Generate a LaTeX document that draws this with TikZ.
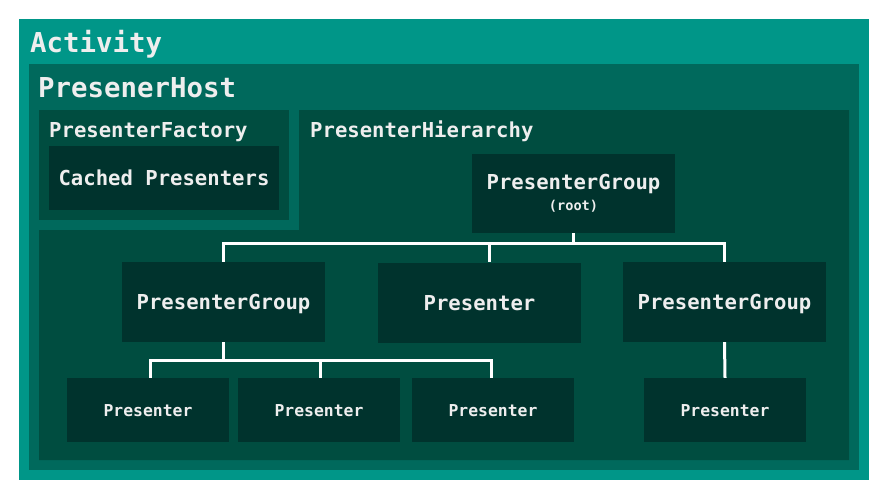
\documentclass[tikz,border=0pt]{standalone}
\usepackage{fontspec}
\setmonofont{DejaVu Sans Mono}
\definecolor{activitybg}{HTML}{009688}
\definecolor{hostbg}{HTML}{00695C}
\definecolor{hierbg}{HTML}{004D40}
\definecolor{boxbg}{HTML}{00332D}
\definecolor{labeltxt}{HTML}{EEEEEE}
\begin{document}
\begin{tikzpicture}[x=1pt,y=-1pt,
    title/.style={anchor=base west, inner sep=0pt, text=labeltxt,
      font=\ttfamily\bfseries\fontsize{27.4}{30}\selectfont},
    subtitle/.style={anchor=base west, inner sep=0pt, text=labeltxt,
      font=\ttfamily\bfseries\fontsize{20.6}{23}\selectfont},
    bigbox/.style={fill=boxbg, text=labeltxt, inner sep=0pt,
      minimum width=203pt, minimum height=80pt, align=center,
      text height=15pt, text depth=0pt,
      font=\ttfamily\bfseries\fontsize{20.6}{23}\selectfont},
    smallbox/.style={fill=boxbg, text=labeltxt, inner sep=0pt,
      minimum width=162pt, minimum height=64pt,
      text height=12pt, text depth=0pt,
      font=\ttfamily\bfseries\fontsize{16.4}{19}\selectfont},
    link/.style={draw=white, line width=3pt}]
    \useasboundingbox (0,0) rectangle (888,499);
    % nested containers
    \fill[activitybg] (19,19) rectangle (869,480);
    \fill[hostbg] (29,64) rectangle (859,470);
    \fill[hierbg] (39,110) rectangle (289,220);
    \fill[hierbg] (299,110) -- (849,110) -- (849,460) -- (39,460)
        -- (39,230) -- (299,230) -- cycle;
    \node[title] (activity) at (30,52) {Activity};
    \node[title] (host) at (38,97) {PresenerHost};
    \node[subtitle] (factory) at (49,137) {PresenterFactory};
    \node[subtitle] (hierarchy) at (310,137) {PresenterHierarchy};
    % boxes
    \node[bigbox, minimum width=230pt, minimum height=64pt] (cache) at (164,178) {Cached Presenters};
    \node[bigbox, minimum height=79pt, text height=, text depth=] (root) at (573.5,193.5)
        {PresenterGroup\\[-2pt]{\fontsize{13.6}{15}\selectfont (root)}};
    \node[bigbox] (grpL) at (223.5,302) {PresenterGroup};
    \node[bigbox] (pres) at (479.5,302.5) {Presenter};
    \node[bigbox] (grpR) at (724.5,302) {PresenterGroup};
    \node[smallbox] (p1) at (148,410) {Presenter};
    \node[smallbox] (p2) at (319,410) {Presenter};
    \node[smallbox] (p3) at (493,410) {Presenter};
    \node[smallbox] (p4) at (725,410) {Presenter};
    % tree links
    \draw[link] (root.south) -- ++(0,10) -| (grpL.north);
    \draw[link] (root.south) -- ++(0,10) -| (grpR.north);
    \draw[link] (root.south) -- ++(0,10) -| ([xshift=10pt]pres.north);
    \draw[link] (grpL.south) -- ++(0,18) -| ([xshift=2pt]p1.north);
    \draw[link] (grpL.south) -- ++(0,18) -| ([xshift=1pt]p2.north);
    \draw[link] (grpL.south) -- ++(0,18) -| ([xshift=-2pt]p3.north);
    \draw[link] (grpR.south) -- (p4.north);
\end{tikzpicture}
\end{document}
